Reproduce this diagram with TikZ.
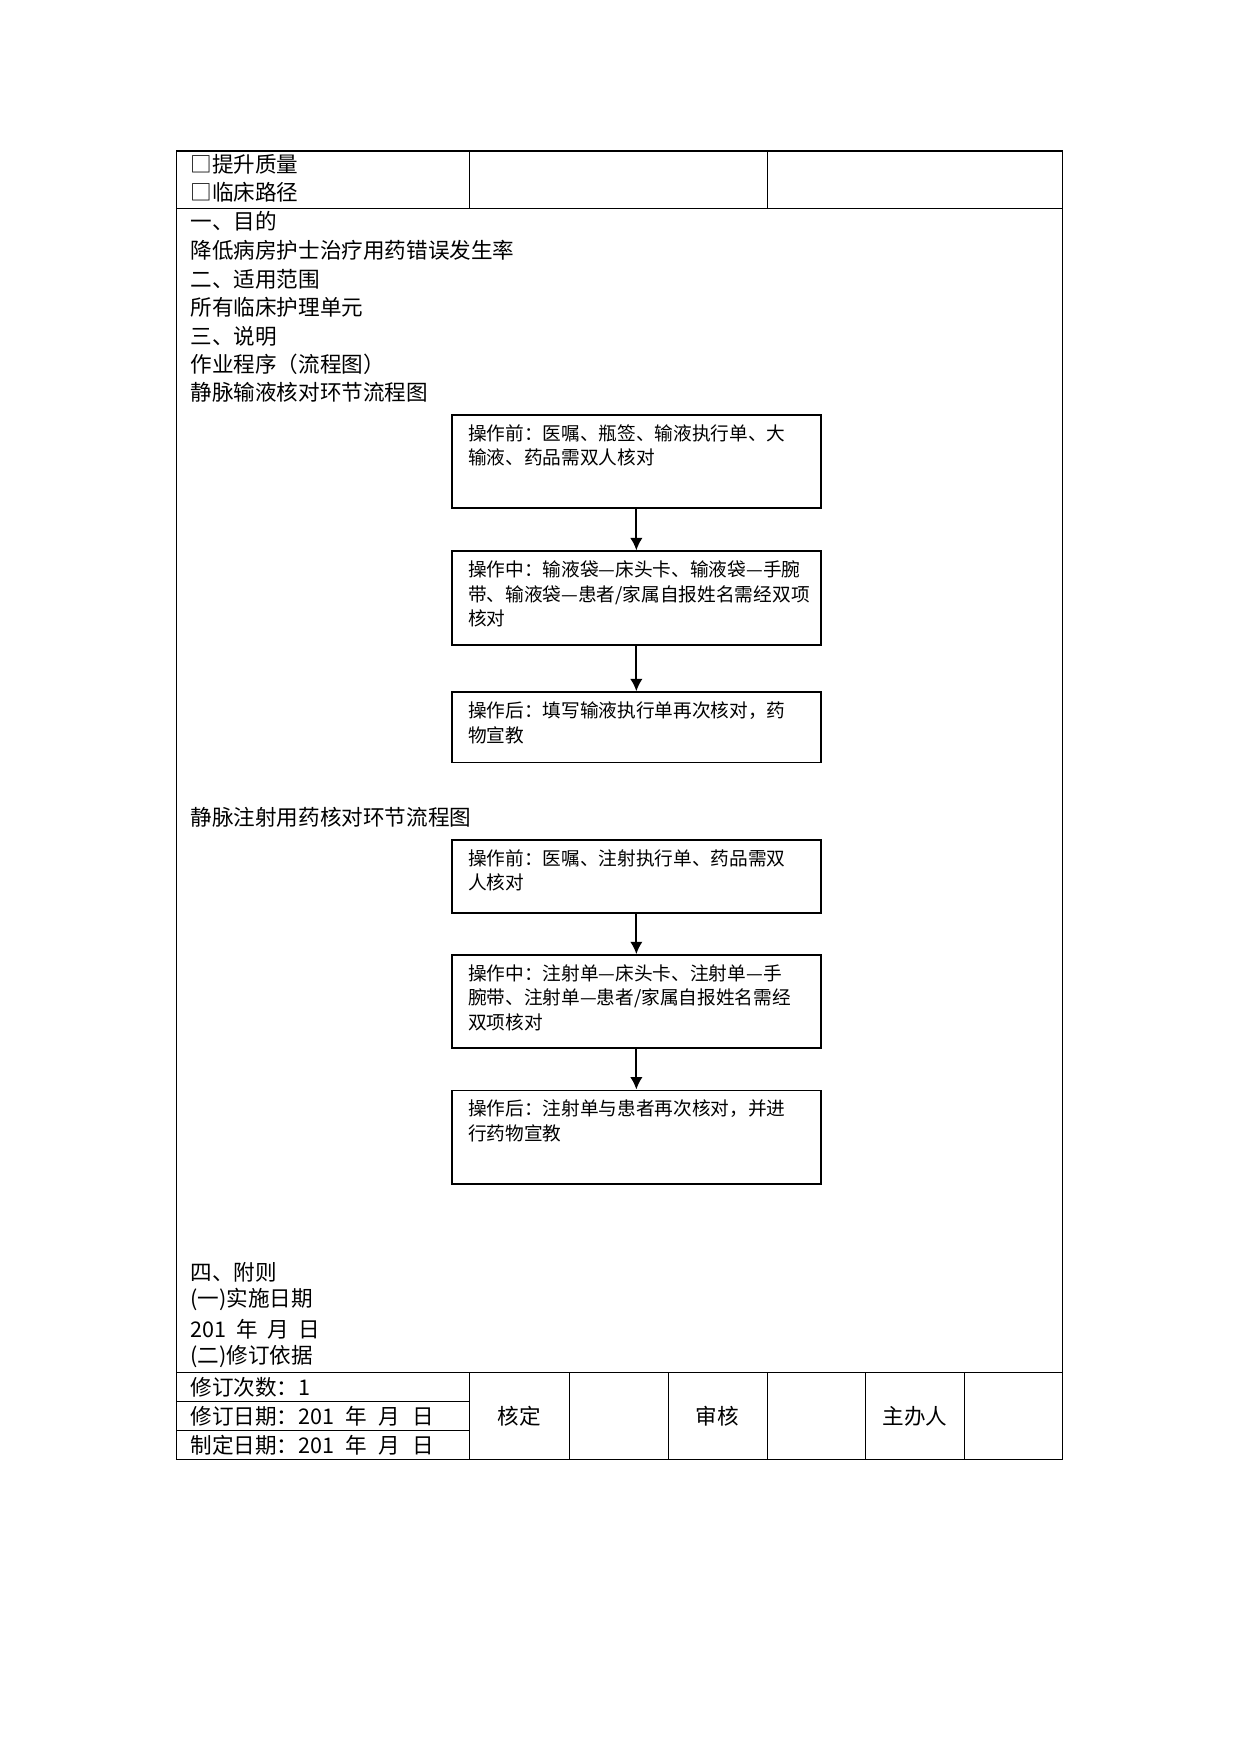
\documentclass[tikz,border=0pt]{standalone}
\usepackage{fontspec}
\setmainfont{Noto Sans CJK SC}
\usepackage{tikz}
\usetikzlibrary{positioning, calc, arrows.meta}
\tikzset{cell/.style={line width=0.5pt}}
\tikzset{flowbox/.style={draw, line width=0.9pt, minimum width=62.5mm, inner sep=0, anchor=north west}}
\tikzset{boxtext/.style={anchor=north west, inner sep=0, align=left, font=\fontsize{9}{11.8}\selectfont}}
\tikzset{bodytext/.style={anchor=west, inner sep=0, font=\fontsize{10.4}{13.7}\selectfont}}
\tikzset{flowarrow/.style={-{Latex[length=2.1mm,width=2.1mm]}, line width=0.9pt}}

\begin{document}
\begin{tikzpicture}[x=0.18936mm, y=-0.18936mm]

      \useasboundingbox (0,0) rectangle (1109,1568);

      % TABLE

      \draw[cell] (158,135) rectangle (950,1305);
      \draw[cell] (158,186) -- (950,186);
      \draw[cell] (420,135) -- (420,186);
      \draw[cell] (686,135) -- (686,186);
      \draw[cell] (158,1227) -- (950,1227);
      \draw[cell] (158,1253) -- (420,1253);
      \draw[cell] (158,1279) -- (420,1279);
      \draw[cell] (420,1227) -- (420,1305);
      \draw[cell] (509,1227) -- (509,1305);
      \draw[cell] (598,1227) -- (598,1305);
      \draw[cell] (686,1227) -- (686,1305);
      \draw[cell] (774,1227) -- (774,1305);
      \draw[cell] (862,1227) -- (862,1305);

      % TEXT

      \node[bodytext] (quality) at (170,147) {□提升质量};
      \node[bodytext] (pathway) at (170,172) {□临床路径};
      \node[bodytext] (aimHead) at (170,198) {一、目的};
      \node[bodytext] (aim) at (170,224) {降低病房护士治疗用药错误发生率};
      \node[bodytext] (scopeHead) at (170,250) {二、适用范围};
      \node[bodytext] (scopeText) at (170,275) {所有临床护理单元};
      \node[bodytext] (noteHead) at (170,301) {三、说明};
      \node[bodytext] (procHead) at (170,326) {作业程序（流程图）};
      \node[bodytext] (infTitle) at (170,351) {静脉输液核对环节流程图};
      \node[bodytext] (injTitle) at (170,731) {静脉注射用药核对环节流程图};
      \node[bodytext] (annexHead) at (170,1137) {四、附则};
      \node[bodytext] (dateHead) at (170,1162) {(一)实施日期};
      \node[bodytext] (dateText) at (170,1188) {201\hspace{0.45em}年\hspace{0.45em}月\hspace{0.45em}日};
      \node[bodytext] (basisHead) at (170,1213) {(二)修订依据};
      \node[bodytext] (revCount) at (170,1240) {修订次数：1};
      \node[bodytext] (revDate) at (170,1266) {修订日期：201\hspace{0.5em}年\hspace{0.55em}月\hspace{0.55em}日};
      \node[bodytext] (setDate) at (170,1292) {制定日期：201\hspace{0.5em}年\hspace{0.55em}月\hspace{0.55em}日};
      \node[bodytext, anchor=center] (approve) at (464,1266) {核定};
      \node[bodytext, anchor=center] (review) at (641,1266) {审核};
      \node[bodytext, anchor=center] (sponsor) at (818,1266) {主办人};

      % BOXES

      \node[flowbox, minimum height=15.7mm] (b1) at (403,370) {};
      \node[flowbox, minimum height=15.9mm] (b2) at (403,492) {};
      \node[flowbox, minimum height=11.9mm] (b3) at (403,618) {};
      \node[flowbox, minimum height=12.3mm] (b4) at (403,750) {};
      \node[flowbox, minimum height=15.7mm] (b5) at (403,853) {};
      \node[flowbox, minimum height=15.9mm] (b6) at (403,974) {};

      % BOX TEXTS

      \node[boxtext] (b1text) at ($(b1.north west)+(15,9)$) {操作前：医嘱、瓶签、输液执行单、大\\输液、药品需双人核对};
      \node[boxtext] (b2text) at ($(b2.north west)+(15,9)$) {操作中：输液袋—床头卡、输液袋—手腕\\带、输液袋—患者/家属自报姓名需经双项\\核对};
      \node[boxtext] (b3text) at ($(b3.north west)+(15,9)$) {操作后：填写输液执行单再次核对，药\\物宣教};
      \node[boxtext] (b4text) at ($(b4.north west)+(15,9)$) {操作前：医嘱、注射执行单、药品需双\\人核对};
      \node[boxtext] (b5text) at ($(b5.north west)+(15,9)$) {操作中：注射单—床头卡、注射单—手\\腕带、注射单—患者/家属自报姓名需经\\双项核对};
      \node[boxtext] (b6text) at ($(b6.north west)+(15,9)$) {操作后：注射单与患者再次核对，并进\\行药物宣教};

      % ARROWS

      \draw[flowarrow] (b1) -- (b2);
      \draw[flowarrow] (b2) -- (b3);
      \draw[flowarrow] (b4) -- (b5);
      \draw[flowarrow] (b5) -- (b6);
\end{tikzpicture}
\end{document}
